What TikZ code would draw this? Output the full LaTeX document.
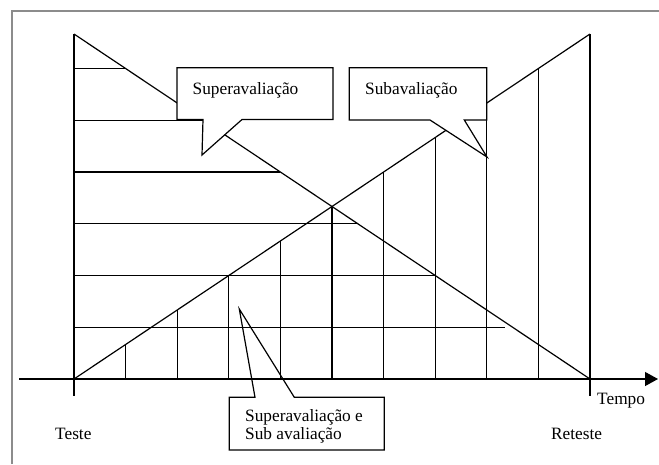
\documentclass[tikz,border=0pt]{standalone}
\usepackage{fontspec}
\setmainfont{Liberation Serif}
\usetikzlibrary{calc,arrows.meta}
\begin{document}
\begin{tikzpicture}[x=1pt,y=-1pt,
  ln/.style={line width=1.2pt,black},
  frameline/.style={line width=2pt,color=black!45},
  callout/.style={ln,fill=white,line join=miter},
  lbl/.style={inner sep=0pt,font=\fontsize{17.3}{18}\selectfont}]
\useasboundingbox (0,0) rectangle (659,464);
% frame (only top and left edges visible)
\draw[frameline] (12,464) -- (12,11) -- (659,11);
% key coordinates
\coordinate (TL) at (74,34);
\coordinate (BL) at (74,379);
\coordinate (TR) at (590,34);
\coordinate (BR) at (590,379);
\coordinate (axS) at (19,379);
\coordinate (axE) at (658,379);
\coordinate (Lbot) at (74,396);
\coordinate (Rbot) at (590,396);
% horizontal lines up to the falling diagonal
\foreach \k in {2,...,6}{
  \coordinate (h\k) at ($(TL)!{1-0.15*\k}!(BR)$);
  \draw[ln] (h\k -| TL) -- (h\k);
}
\coordinate (h1) at ($(TL)!0.85!(BR)$);
\coordinate (h1e) at ([xshift=-7.6pt]h1);
\draw[ln] (h1 -| TL) -- (h1e);
% vertical lines up to the rising diagonal
\foreach \k in {1,...,9}{
  \coordinate (v\k) at ($(BL)!{0.1*\k}!(TR)$);
  \draw[ln] (v\k |- BL) -- (v\k);
}
% diagonals
\draw[ln] (TL) -- (BR);
\draw[ln] (BL) -- (TR);
% side verticals
\draw[ln] (TL) -- (Lbot);
\draw[ln] (TR) -- (Rbot);
% time axis
\draw[ln,-{Triangle[length=13pt,width=14pt]}] (axS) -- (axE);
% callout 1
\coordinate (c1tip) at (202,155);
\draw[callout] (177,67.7) -- (333,67.7) -- (333,119.5) -- (242,119.5) -- (c1tip) -- (203,119.5) -- (177,119.5) -- cycle;
\node[lbl,anchor=base west] (super) at (192.5,94) {Superavaliação};
% callout 2
\coordinate (c2tip) at (487,157);
\draw[callout] (349.3,67.7) -- (486.7,67.7) -- (486.7,120) -- (464.3,120) -- (c2tip) -- (430,120) -- (349.3,120) -- cycle;
\node[lbl,anchor=base west] (sub) at (365,94) {Subavaliação};
% callout 3 (not filled)
\coordinate (c3tip) at (239.3,309);
\draw[ln,line join=miter] (229.3,397.3) -- (255,397.3) -- (c3tip) -- (294.3,397.3) -- (384.3,397.3) -- (384.3,450) -- (229.3,450) -- cycle;
\node[lbl,anchor=base west] (both1) at (245,421) {Superavaliação e};
\node[lbl,anchor=base west] (both2) at (245,439) {Sub avaliação};
% other labels
\node[lbl,anchor=base west] (tempo) at (597,404) {Tempo};
\node[lbl,anchor=base west] (teste) at (55,439) {Teste};
\node[lbl,anchor=base west] (reteste) at (551,439) {Reteste};
\end{tikzpicture}
\end{document}
